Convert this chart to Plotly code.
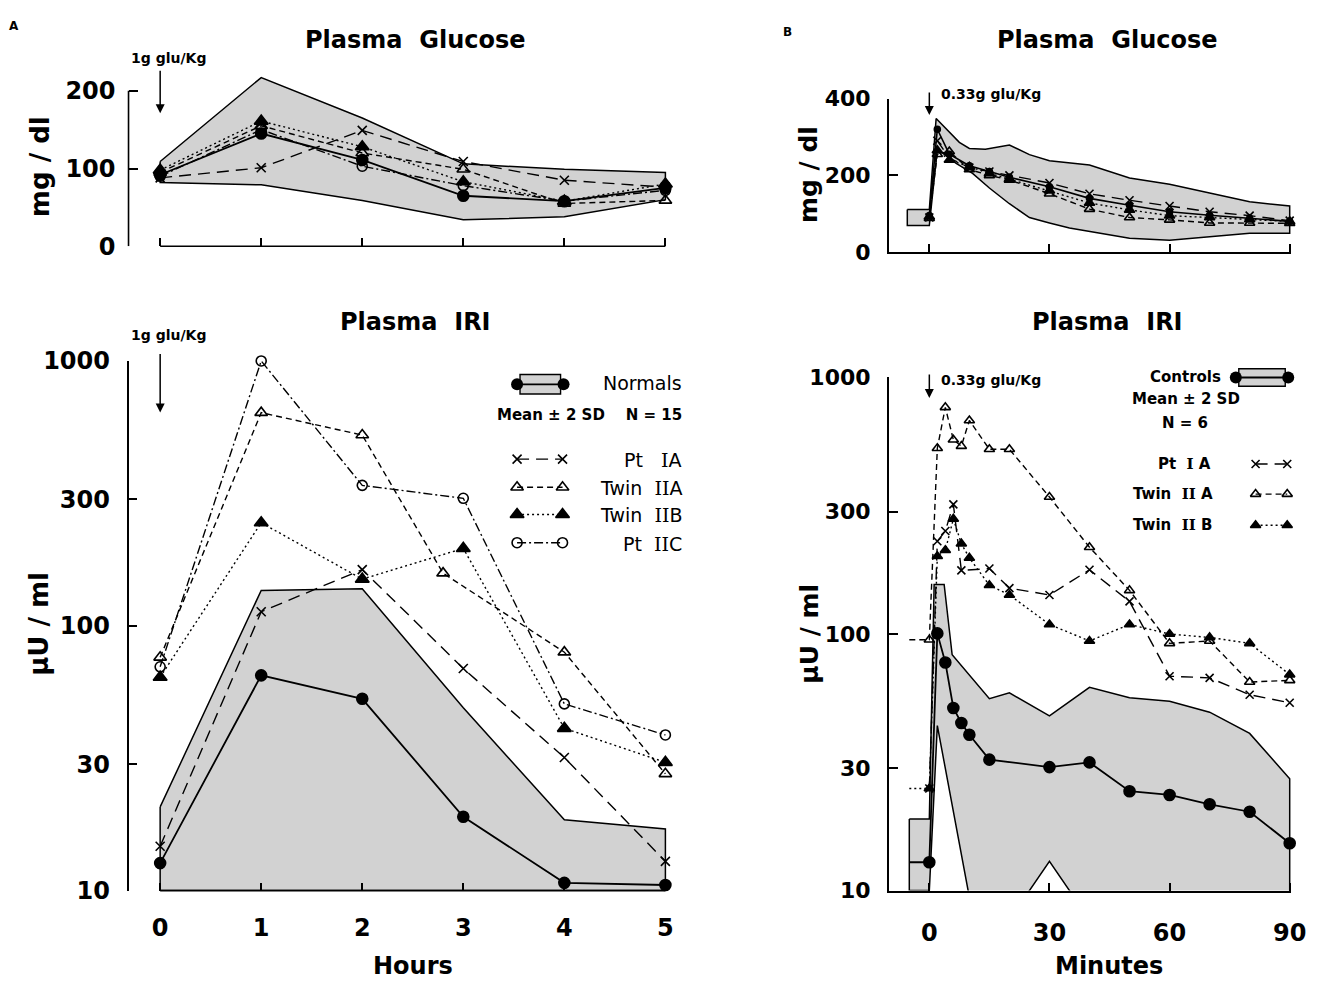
import plotly.graph_objects as go

W, H = 1322, 995
FONT = "DejaVu Sans"
SERIF = "DejaVu Serif"

# ---------------- Panel A (hours) ----------------
hours = [0, 1, 2, 3, 4, 5]
a_glu_band_hi = [109, 217, 165, 106, 99, 95]
a_glu_band_lo = [82, 79, 59, 34, 38, 60]
a_glu_mean = [92, 145, 111, 65, 58, 75]
a_glu_pt1a = [88, 101, 149, 109, 85, 76]
a_glu_tw2a = [95, 155, 120, 99, 55, 59]
a_glu_tw2b = [98, 161, 128, 83, 58, 80]
a_glu_pt2c = [90, 150, 103, 78, 58, 72]

a_iri_band_hi = [20.7, 136, 138, 49, 18.5, 17.1]
a_iri_band_lo = [10, 10, 10, 10, 10, 10]
a_iri_mean = [12.7, 65, 53, 19, 10.7, 10.5]
a_iri_pt1a = [14.7, 113, 163, 69, 31.8, 12.9]
a_iri_tw2a_t = [0, 1, 2, 2.8, 4, 5]
a_iri_tw2a = [76, 638, 525, 158, 79.5, 27.6]
a_iri_tw2b = [64, 245, 150, 196, 41, 30.5]
a_iri_pt2c = [70, 1000, 339, 303, 50.7, 38.7]

# ---------------- Panel B (minutes) ----------------
b_glu_hi_t = [-5.5, 0, 1.7, 5, 7.5, 10, 14, 20, 25, 30, 40, 50, 60, 70, 80, 90]
b_glu_hi = [111, 111, 348, 313, 286, 270, 268, 279, 254, 238, 227, 193, 177, 154, 131, 120]
b_glu_lo_t = [-5.5, 0, 2, 6.7, 10.8, 15, 20, 25, 30, 35, 50, 60, 70, 80, 90]
b_glu_lo = [69, 69, 268, 231, 205, 167, 126, 90, 76, 63, 36, 31, 40, 49, 49]
b_glu_t = [0, 2, 5, 10, 15, 20, 30, 40, 50, 60, 70, 80, 90]
b_glu_mean = [95, 320, 255, 225, 210, 195, 170, 140, 122, 105, 96, 88, 80]
b_glu_pt1a = [90, 290, 245, 220, 210, 200, 180, 152, 135, 120, 105, 95, 82]
b_glu_tw2a = [88, 255, 262, 215, 200, 188, 152, 112, 90, 84, 76, 76, 75]
b_glu_tw2b = [92, 265, 240, 222, 205, 190, 160, 128, 110, 95, 90, 85, 80]

b_iri_hi_t = [-5, 0, 1.2, 3.7, 5.7, 15, 20, 30, 40, 50, 60, 70, 80, 90]
b_iri_hi = [19, 19, 156, 156, 83, 56, 59, 48, 62, 56.5, 54.7, 49.6, 41, 27.3]
b_iri_lo_t = [-5, 0, 2, 9.8, 20, 30, 40, 90]
b_iri_lo = [10, 10, 44, 9.8, 7.7, 13, 7.7, 5]
b_iri_mean_t = [-5, 0, 2, 4, 6, 8, 10, 15, 30, 40, 50, 60, 70, 80, 90]
b_iri_mean = [12.9, 12.9, 100.6, 77.5, 51.5, 45, 40.5, 32.4, 30.3, 31.6, 24.4, 23.6, 21.7, 20.3, 15.3]
b_iri_pt1a_t = [0, 2, 4, 6, 8, 15, 20, 30, 40, 50, 60, 70, 80, 90]
b_iri_pt1a = [25, 230, 252, 320, 177, 180, 151, 142, 178, 134, 68.5, 67.5, 58, 54]
b_iri_tw_t = [-5, 0, 2, 4, 6, 8, 10, 15, 20, 30, 40, 50, 60, 70, 80, 90]
b_iri_tw2a = [95, 95, 530, 765, 572, 540, 680, 525, 525, 342, 218, 148, 92, 94, 65, 66]
b_iri_tw2b = [25, 25, 201, 212, 281, 225, 198, 155, 142, 109, 94, 109, 100, 97, 92, 69.5]

# tick labels
a_glu_ticks = [0, 100, 200]
b_glu_ticks = [0, 200, 400]
iri_ticks = [10, 30, 100, 300, 1000]
hour_ticks = [0, 1, 2, 3, 4, 5]
min_ticks = [0, 30, 60, 90]


def px(x):
    return x / W


def py(y):
    return 1 - y / H


# ---------------- styles ----------------
GRAY = "#d2d2d2"
LW = 1.4
STY = {
    "mean": dict(dash="solid", symbol="circle", size=11),
    "pt1a": dict(dash="12px,7px", symbol="x-thin", size=9),
    "tw2a": dict(dash="6px,4px", symbol="triangle-up-open", size=11),
    "tw2b": dict(dash="2px,3px", symbol="triangle-up", size=12),
    "pt2c": dict(dash="9px,3px,2px,3px", symbol="circle-open", size=10),
}


def line_trace(x, y, key, xa, ya, sizes=None, lw=LW):
    s = STY[key]
    return go.Scatter(
        x=x, y=y, mode="lines+markers", xaxis=xa, yaxis=ya, showlegend=False,
        line=dict(color="black", width=lw, dash=s["dash"]),
        marker=dict(symbol=s["symbol"], size=sizes if sizes is not None else s["size"],
                    color="black", opacity=1, line=dict(color="black", width=1.6)),
        cliponaxis=False, hoverinfo="skip")


def band_trace(xu, yu, xl, yl, xa, ya):
    xs = list(xu) + list(xl)[::-1] + [xu[0]]
    ys = list(yu) + list(yl)[::-1] + [yu[0]]
    return go.Scatter(x=xs, y=ys, mode="lines", fill="toself", fillcolor=GRAY,
                      line=dict(color="black", width=1.5), xaxis=xa, yaxis=ya,
                      showlegend=False, hoverinfo="skip")


fig = go.Figure()

# Panel A glucose
fig.add_trace(band_trace(hours, a_glu_band_hi, hours, a_glu_band_lo, "x", "y"))
fig.add_trace(line_trace(hours, a_glu_pt1a, "pt1a", "x", "y"))
fig.add_trace(line_trace(hours, a_glu_tw2a, "tw2a", "x", "y"))
fig.add_trace(line_trace(hours, a_glu_tw2b, "tw2b", "x", "y"))
fig.add_trace(line_trace(hours, a_glu_pt2c, "pt2c", "x", "y"))
fig.add_trace(line_trace(hours, a_glu_mean, "mean", "x", "y", lw=1.8))

# Panel A IRI
fig.add_trace(band_trace(hours, a_iri_band_hi, hours, a_iri_band_lo, "x2", "y2"))
fig.add_trace(line_trace(hours, a_iri_pt1a, "pt1a", "x2", "y2"))
fig.add_trace(line_trace(a_iri_tw2a_t, a_iri_tw2a, "tw2a", "x2", "y2"))
fig.add_trace(line_trace(hours, a_iri_tw2b, "tw2b", "x2", "y2"))
fig.add_trace(line_trace(hours, a_iri_pt2c, "pt2c", "x2", "y2"))
fig.add_trace(line_trace(hours, a_iri_mean, "mean", "x2", "y2", lw=1.8))

# Panel B glucose
fig.add_trace(band_trace(b_glu_hi_t, b_glu_hi, b_glu_lo_t, b_glu_lo, "x3", "y3"))
fig.add_trace(line_trace(b_glu_t, b_glu_pt1a, "pt1a", "x3", "y3", sizes=8))
fig.add_trace(line_trace(b_glu_t, b_glu_tw2a, "tw2a", "x3", "y3", sizes=9))
fig.add_trace(line_trace(b_glu_t, b_glu_tw2b, "tw2b", "x3", "y3", sizes=9))
fig.add_trace(line_trace(b_glu_t, b_glu_mean, "mean", "x3", "y3", sizes=6, lw=1.6))

# Panel B IRI
fig.add_trace(band_trace(b_iri_hi_t, b_iri_hi, b_iri_lo_t, b_iri_lo, "x4", "y4"))
stub = lambda n, s: [0] + [s] * (n - 1)
fig.add_trace(line_trace(b_iri_pt1a_t, b_iri_pt1a, "pt1a", "x4", "y4", sizes=8))
fig.add_trace(line_trace(b_iri_tw_t, b_iri_tw2a, "tw2a", "x4", "y4", sizes=stub(len(b_iri_tw_t), 9)))
fig.add_trace(line_trace(b_iri_tw_t, b_iri_tw2b, "tw2b", "x4", "y4", sizes=stub(len(b_iri_tw_t), 9)))
fig.add_trace(line_trace(b_iri_mean_t, b_iri_mean, "mean", "x4", "y4", sizes=stub(len(b_iri_mean_t), 11), lw=1.8))

# ---------------- legend keys (overlay axis in pixel units) ----------------
def key(x0, x1, yk, k, size=None):
    s = STY[k]
    fig.add_trace(go.Scatter(
        x=[x0, x1], y=[yk, yk], mode="lines+markers", xaxis="x5", yaxis="y5", showlegend=False,
        line=dict(color="black", width=LW, dash=s["dash"]),
        marker=dict(symbol=s["symbol"], size=size or s["size"], color="black",
                    line=dict(color="black", width=1.6)),
        cliponaxis=False, hoverinfo="skip"))

key(523, 569, 458, "pt1a")
key(523, 569, 487, "tw2a")
key(523, 569, 515, "tw2b")
key(523, 569, 544, "pt2c")
key(1270, 1302, 463, "pt1a", 8)
key(1270, 1302, 494, "tw2a", 9)
key(1270, 1302, 526, "tw2b", 9)

shapes = []
annos = []


def box_key(x0, x1, yc, hh):
    shapes.append(dict(type="rect", xref="x5", yref="y5", x0=x0, x1=x1, y0=yc - hh, y1=yc + hh,
                       fillcolor=GRAY, line=dict(color="black", width=1.4), layer="below"))
    fig.add_trace(go.Scatter(x=[x0 - 3, x1 + 3], y=[yc, yc], mode="lines+markers", xaxis="x5", yaxis="y5",
                             showlegend=False, line=dict(color="black", width=1.8),
                             marker=dict(symbol="circle", size=12, color="black"),
                             cliponaxis=False, hoverinfo="skip"))


box_key(526, 567, 381, 10)
box_key(1253, 1300, 374, 9)


def text(x, y, s, size, anchor="center", bold=False, angle=0):
    annos.append(dict(x=px(x), y=py(y), xref="paper", yref="paper", text=("<b>%s</b>" % s) if bold else s,
                      showarrow=False, xanchor=anchor, yanchor="middle", textangle=angle,
                      font=dict(family=FONT, size=size, color="black")))


def arrow(x, ytip, ytail):
    annos.append(dict(x=px(x), y=py(ytip), xref="paper", yref="paper", ax=0, ay=ytail - ytip,
                      text="", showarrow=True, arrowhead=2,
                      arrowsize=1.2, arrowwidth=1.5, arrowcolor="black"))


def rn(s):
    return '<span style="font-family:%s">%s</span>' % (SERIF, s)


# titles
text(420, 27, "<b>Plasma&nbsp;&nbsp;Glucose</b>", 24)
text(1120, 27, "<b>Plasma&nbsp;&nbsp;Glucose</b>", 24)
text(420, 317, "<b>Plasma&nbsp;&nbsp;IRI</b>", 24)
text(1120, 317, "<b>Plasma&nbsp;&nbsp;IRI</b>", 24)
text(14, 12, "A", 12, bold=True)
text(797, 19, "B", 12, bold=True)
text(40, 157, "mg / dl", 26, angle=-90, bold=True)
text(818, 165, "mg / dl", 25, angle=-90, bold=True)
text(40, 628, "μU / ml", 26, angle=-90, bold=True)
text(818, 638, "μU / ml", 25, angle=-90, bold=True)
text(418, 980, "Hours", 24, bold=True)
text(1122, 980, "Minutes", 24, bold=True)

# injection arrows
text(170, 45, "1g glu/Kg", 14, bold=True)
arrow(162, 102, 58)
text(170, 330, "1g glu/Kg", 14, bold=True)
arrow(162, 410, 350)
text(950, 82, "0.33g glu/Kg", 14, anchor="left", bold=True)
arrow(940, 104, 80)
text(950, 377, "0.33g glu/Kg", 14, anchor="left", bold=True)
arrow(940, 395, 370)

# legend A
text(692, 380, "Normals", 19, anchor="right")
text(692, 413, "Mean ± 2 SD&nbsp;&nbsp;&nbsp;&nbsp;N = 15", 15, anchor="right", bold=True)
text(692, 459, "Pt&nbsp;&nbsp;&nbsp;" + rn("I") + "A", 19, anchor="right")
text(692, 488, "Twin&nbsp;&nbsp;" + rn("II") + "A", 19, anchor="right")
text(692, 516, "Twin&nbsp;&nbsp;" + rn("II") + "B", 19, anchor="right")
text(692, 545, "Pt&nbsp;&nbsp;" + rn("II") + "C", 19, anchor="right")

# legend B
text(1199, 374, "Controls", 15, bold=True)
text(1200, 396, "Mean ± 2 SD", 15, bold=True)
text(1199, 421, "N = 6", 15, bold=True)
text(1198, 463, "Pt&nbsp;&nbsp;" + rn("I") + "&nbsp;A", 15, bold=True)
text(1186, 494, "Twin&nbsp;&nbsp;" + rn("II") + "&nbsp;A", 15, bold=True)
text(1186, 526, "Twin&nbsp;&nbsp;" + rn("II") + "&nbsp;B", 15, bold=True)

# axis lines drawn as shapes for panel A (brackets not joined)
axline = dict(color="black", width=1.6)
shapes.append(dict(type="line", xref="x domain", yref="y", x0=0, x1=0, y0=0, y1=200, line=axline))
shapes.append(dict(type="line", xref="x", yref="y domain", x0=0, x1=5, y0=0, y1=0, line=axline))
shapes.append(dict(type="line", xref="x2", yref="y2 domain", x0=0, x1=5, y0=0, y1=0, line=axline))

# domains (pixels)
A_XD = [px(130), px(690)]
B_XD = [px(899), px(1306)]
A_XR = [-0.313, 5.166]
B_XR = [-10.12, 90.37]

tickfont = dict(family=FONT, size=24, color="black", weight="bold")
tickfont_b = dict(family=FONT, size=22, color="black", weight="bold")


def xax(dom, rng, anchor, tv, labels):
    return dict(domain=dom, range=rng, anchor=anchor, showgrid=False, zeroline=False,
                ticks="inside", ticklen=8, tickwidth=1.5, tickcolor="black",
                tickvals=tv, ticktext=[str(v) for v in tv], showticklabels=labels,
                tickfont=tickfont, ticklabelstandoff=20, fixedrange=True)


def yax(dom, rng, anchor, tv, log=False, line=True, tf=tickfont):
    d = dict(domain=dom, range=rng, anchor=anchor, showgrid=False, zeroline=False,
             ticks="inside", ticklen=9, tickwidth=1.5, tickcolor="black",
             tickvals=tv, ticktext=[str(v) for v in tv], tickfont=tf,
             ticklabelstandoff=12, showline=line, linecolor="black", linewidth=1.6, fixedrange=True)
    if log:
        d["type"] = "log"
    return d


layout = dict(
    width=W, height=H, margin=dict(l=0, r=0, t=0, b=0),
    paper_bgcolor="white", plot_bgcolor="rgba(0,0,0,0)", showlegend=False,
    xaxis=dict(xax(A_XD, A_XR, "y", hour_ticks, False), showline=False),
    yaxis=yax([py(239), py(55)], [0, 230], "x", a_glu_ticks, line=False),
    xaxis2=dict(xax(A_XD, A_XR, "y2", hour_ticks, True), showline=False),
    yaxis2=yax([py(902), py(357)], [1, 3], "x2", iri_ticks, log=True),
    xaxis3=dict(xax(B_XD, B_XR, "y3", min_ticks, False), showline=True, linecolor="black", linewidth=1.6),
    yaxis3=yax([py(245), py(87)], [0, 400], "x3", b_glu_ticks, tf=tickfont_b),
    xaxis4=dict(xax(B_XD, B_XR, "y4", min_ticks, True), showline=True, linecolor="black", linewidth=1.6),
    yaxis4=yax([py(902), py(374)], [1, 3], "x4", iri_ticks, log=True, tf=tickfont_b),
    xaxis5=dict(domain=[0, 1], range=[0, W], anchor="y5", visible=False, fixedrange=True),
    yaxis5=dict(domain=[0, 1], range=[H, 0], anchor="x5", visible=False, fixedrange=True),
    shapes=shapes, annotations=annos,
)
fig.update_layout(**layout)

fig.write_html("out.html", config={"displayModeBar": False},
               post_script="document.body.style.margin='0px';document.body.style.overflow='hidden';")
